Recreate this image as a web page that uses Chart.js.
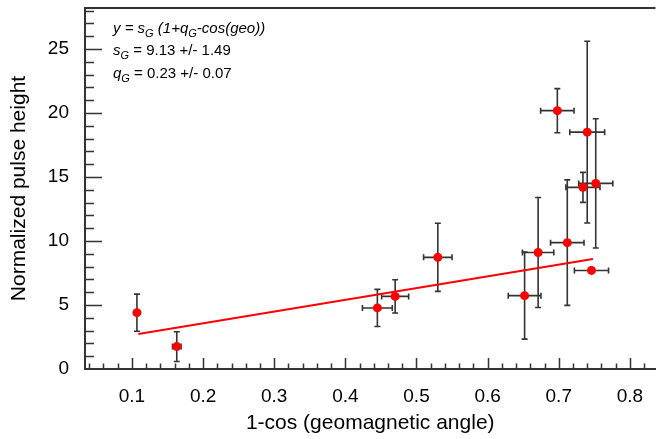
<!DOCTYPE html>
<html>
<head>
<meta charset="utf-8">
<script src="https://cdn.jsdelivr.net/npm/chart.js@4.4.1/dist/chart.umd.min.js"></script>
<style>
  body { margin: 0; background: #fff; }
</style>
</head>
<body>
<canvas id="myChart" width="660" height="439"></canvas>
<script>
// measured points: x = 1-cos(geomagnetic angle), y = normalized pulse height
const xValues = [0.107, 0.163, 0.445, 0.470, 0.530, 0.652, 0.671, 0.698, 0.712, 0.734, 0.740, 0.746, 0.752];
const yValues = [4.4, 1.75, 4.77, 5.67, 8.72, 5.73, 9.1, 20.18, 9.87, 14.19, 18.5, 7.7, 14.5];
const xErrors = [0, 0.006, 0.021, 0.019, 0.020, 0.023, 0.022, 0.0235, 0.0235, 0.024, 0.0245, 0.024, 0.024];
const yErrors = [1.45, 1.16, 1.45, 1.3, 2.66, 3.4, 4.3, 1.72, 4.9, 1.17, 7.1, 0, 5.05];

// fitted line end points
const fitX = [0.109, 0.748];
const fitY = [2.73, 8.59];

const xTicks = [0.1, 0.2, 0.3, 0.4, 0.5, 0.6, 0.7, 0.8];
const yTicks = [0, 5, 10, 15, 20, 25];

const axisColor = "#333";
const ctx = document.getElementById("myChart").getContext("2d");

// error bars, drawn under the points
const errorBars = {
  id: "errorBars",
  beforeDatasetsDraw(chart) {
    const { ctx, scales: { x, y } } = chart;
    const cap = 3;
    ctx.save();
    ctx.strokeStyle = "#333";
    ctx.lineWidth = 1.6;
    xValues.forEach((xv, i) => {
      const px = x.getPixelForValue(xv);
      const py = y.getPixelForValue(yValues[i]);
      ctx.beginPath();
      if (yErrors[i] > 0) {
        const top = y.getPixelForValue(yValues[i] + yErrors[i]);
        const bot = y.getPixelForValue(yValues[i] - yErrors[i]);
        ctx.moveTo(px, top); ctx.lineTo(px, bot);
        ctx.moveTo(px - cap, top); ctx.lineTo(px + cap, top);
        ctx.moveTo(px - cap, bot); ctx.lineTo(px + cap, bot);
      }
      if (xErrors[i] > 0) {
        const l = x.getPixelForValue(xv - xErrors[i]);
        const r = x.getPixelForValue(xv + xErrors[i]);
        ctx.moveTo(l, py); ctx.lineTo(r, py);
        ctx.moveTo(l, py - cap); ctx.lineTo(l, py + cap);
        ctx.moveTo(r, py - cap); ctx.lineTo(r, py + cap);
      }
      ctx.stroke();
    });
    ctx.restore();
  },
};

// inside tick marks + top frame line
const frame = {
  id: "frame",
  afterDraw(chart) {
    const { ctx, chartArea: a, scales: { x, y } } = chart;
    ctx.save();
    ctx.strokeStyle = axisColor;
    ctx.lineWidth = 1.5;
    ctx.beginPath();
    for (let k = 2; k * 0.02 <= x.max; k++) {
      const px = Math.round(x.getPixelForValue(k * 0.02)) + 0.5;
      const len = k % 5 === 0 ? 11 : 5.5;
      ctx.moveTo(px, a.bottom);
      ctx.lineTo(px, a.bottom - len);
    }
    for (let k = 1; k <= y.max; k++) {
      const py = Math.round(y.getPixelForValue(k)) + 0.5;
      const len = k % 5 === 0 ? 17 : 9;
      ctx.moveTo(a.left, py);
      ctx.lineTo(a.left + len, py);
    }
    ctx.stroke();
    ctx.lineWidth = 2;
    ctx.beginPath();
    ctx.moveTo(a.left, a.top);
    ctx.lineTo(a.right, a.top);
    ctx.stroke();
    ctx.restore();
  },
};

// fit result text in the top left corner
function drawRuns(c, x, y, runs) {
  runs.forEach((r) => {
    const size = r.sub ? 11 : 15;
    c.font = (r.italic ? "italic " : "") + size + "px 'Liberation Sans', Arial, sans-serif";
    c.fillText(r.t, x, r.sub ? y + 4 : y);
    x += c.measureText(r.t).width;
  });
}

const fitText = {
  id: "fitText",
  afterDraw(chart) {
    const c = chart.ctx;
    c.save();
    c.fillStyle = "#000";
    c.textBaseline = "alphabetic";
    drawRuns(c, 113, 33, [
      { t: "y = s", italic: true },
      { t: "G", italic: true, sub: true },
      { t: " (1+q", italic: true },
      { t: "G", italic: true, sub: true },
      { t: "-cos(geo))", italic: true },
    ]);
    drawRuns(c, 113, 55, [
      { t: "s", italic: true },
      { t: "G", italic: true, sub: true },
      { t: " = 9.13 +/- 1.49" },
    ]);
    drawRuns(c, 113, 78, [
      { t: "q", italic: true },
      { t: "G", italic: true, sub: true },
      { t: " = 0.23 +/- 0.07" },
    ]);
    c.restore();
  },
};

const myChart = new Chart(ctx, {
  type: "scatter",
  data: {
    datasets: [
      {
        label: "data",
        data: xValues.map((v, i) => ({ x: v, y: yValues[i] })),
        backgroundColor: "#ff0000",
        borderWidth: 0,
        pointRadius: 4.5,
      },
      {
        label: "fit",
        data: fitX.map((v, i) => ({ x: v, y: fitY[i] })),
        showLine: true,
        borderColor: "#ff0000",
        borderWidth: 2,
        pointRadius: 0,
        fill: false,
      },
    ],
  },
  options: {
    responsive: false,
    animation: false,
    devicePixelRatio: 1,
    layout: { padding: { top: 8, right: 1, left: 0, bottom: 0 } },
    plugins: {
      legend: { display: false },
      tooltip: { enabled: false },
    },
    scales: {
      x: {
        type: "linear",
        min: 0.034,
        max: 0.836,
        afterBuildTicks: (s) => { s.ticks = xTicks.map((v) => ({ value: v })); },
        afterFit: (s) => { s.height = 70; s.paddingLeft = 0; s.paddingRight = 0; },
        grid: { display: false, drawTicks: false },
        border: { display: true, color: axisColor, width: 2 },
        ticks: {
          padding: 16,
          color: "#000",
          font: { family: "'Liberation Sans', Arial, sans-serif", size: 19 },
          callback: (v) => v.toFixed(1),
        },
        title: {
          display: true,
          text: "1-cos (geomagnetic angle)",
          color: "#000",
          padding: { top: 0, bottom: 3 },
          font: { family: "'Liberation Sans', Arial, sans-serif", size: 21 },
        },
      },
      y: {
        min: 0,
        max: 28.2,
        afterBuildTicks: (s) => { s.ticks = yTicks.map((v) => ({ value: v })); },
        afterFit: (s) => { s.width = 85; s.paddingTop = 0; s.paddingBottom = 0; },
        grid: { display: false, drawTicks: false },
        border: { display: true, color: axisColor, width: 2 },
        ticks: {
          padding: 16,
          color: "#000",
          font: { family: "'Liberation Sans', Arial, sans-serif", size: 19 },
        },
        title: {
          display: true,
          text: "Normalized pulse height",
          color: "#000",
          padding: { top: 7, bottom: 0 },
          font: { family: "'Liberation Sans', Arial, sans-serif", size: 21 },
        },
      },
    },
  },
  plugins: [errorBars, frame, fitText],
});
</script>
</body>
</html>
